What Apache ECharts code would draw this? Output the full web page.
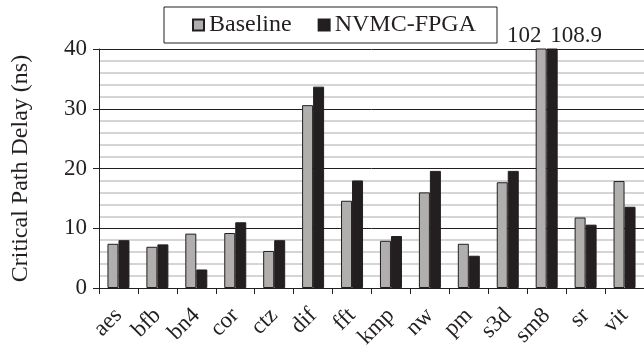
<!DOCTYPE html>
<html>
<head>
<meta charset="utf-8">
<script src="https://cdn.jsdelivr.net/npm/echarts@6/dist/echarts.min.js"></script>
<style>
html, body { margin: 0; padding: 0; background: #fff; }
#chart { width: 644px; height: 350px; }
</style>
</head>
<body>
<div id="chart"></div>
<script>
const categories = ['aes', 'bfb', 'bn4', 'cor', 'ctz', 'dif', 'fft', 'kmp', 'nw', 'pm', 's3d', 'sm8', 'sr', 'vit'];
const baseline = [7.4, 6.9, 9.1, 9.2, 6.2, 30.6, 14.6, 7.9, 16.0, 7.4, 17.7, 102, 11.8, 17.9];
const nvmcFpga = [8.0, 7.3, 3.1, 11.0, 8.0, 33.7, 18.0, 8.7, 19.6, 5.4, 19.6, 108.9, 10.6, 13.6];
const yMax = 40;

const font = '"Liberation Serif", "Times New Roman", serif';
const dark = '#231f20';

// only label bars that go past the top of the axis
function overLabel(offsetX) {
	return {
		show: true,
		position: 'top',
		distance: 1,
		offset: [offsetX, 0],
		fontFamily: font,
		fontSize: 23,
		color: dark,
		formatter: function (p) {
			return p.value > yMax ? String(p.value) : '';
		}
	};
}

let mychart = echarts.init(document.getElementById('chart'));
let option = {
	animation: false,
	textStyle: { fontFamily: font },
	legend: {
		left: 164,
		top: 7,
		padding: [6, 21, 6, 28],
		borderColor: dark,
		borderWidth: 1,
		itemWidth: 11,
		itemHeight: 11,
		itemGap: 26,
		icon: 'rect',
		textStyle: { fontFamily: font, fontSize: 24, color: dark },
		data: ['Baseline', 'NVMC-FPGA']
	},
	grid: {
		left: 99,
		right: 0,
		top: 49,
		bottom: 62,
		outerBoundsMode: 'none'
	},
	xAxis: {
		type: 'category',
		data: categories,
		axisLine: { lineStyle: { color: dark, width: 1 } },
		axisTick: { show: true, length: 6, lineStyle: { color: dark } },
		axisLabel: {
			interval: 0,
			rotate: 45,
			margin: 24,
			fontFamily: font,
			fontSize: 23,
			color: dark
		}
	},
	yAxis: {
		type: 'value',
		min: 0,
		max: yMax,
		interval: 10,
		name: 'Critical Path Delay (ns)',
		nameLocation: 'middle',
		nameGap: 66,
		nameTextStyle: { fontFamily: font, fontSize: 24, color: dark },
		axisLine: { show: true, lineStyle: { color: dark, width: 1 } },
		axisTick: { show: true, length: 6, lineStyle: { color: dark } },
		axisLabel: { fontFamily: font, fontSize: 23, color: dark, margin: 12 },
		splitLine: { lineStyle: { color: dark, width: 1 } },
		minorTick: { show: false, splitNumber: 5 },
		minorSplitLine: { show: true, lineStyle: { color: '#c8c8c8', width: 1.5 } }
	},
	series: [{
		name: 'Baseline',
		type: 'bar',
		data: baseline,
		barWidth: 11,
		barGap: '0%',
		itemStyle: { color: '#b1aeae', borderColor: dark, borderWidth: 1 },
		label: overLabel(-17)
	}, {
		name: 'NVMC-FPGA',
		type: 'bar',
		data: nvmcFpga,
		barWidth: 11,
		barGap: '0%',
		itemStyle: { color: dark, borderColor: dark, borderWidth: 1 },
		label: overLabel(24)
	}]
};

mychart.setOption(option);
</script>
</body>
</html>
